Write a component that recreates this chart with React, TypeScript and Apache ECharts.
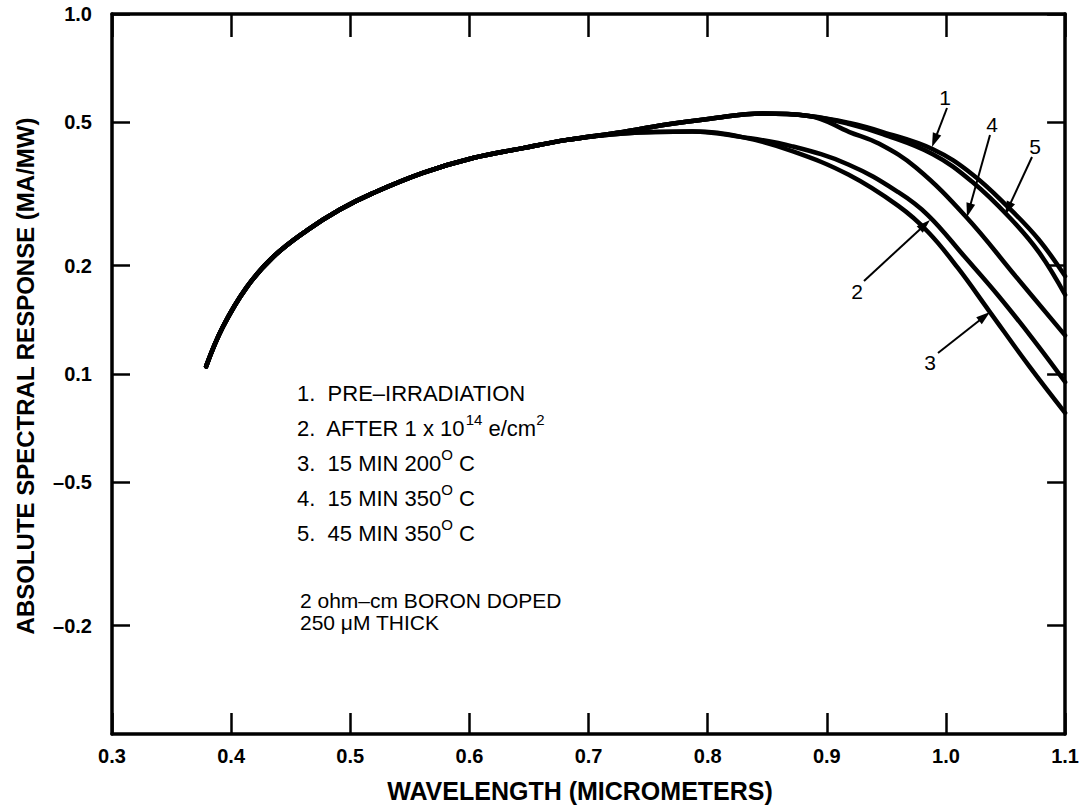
import React, { useEffect, useRef } from "react";
import * as echarts from "echarts";

// ---- axis ticks ----
const xMin = 0.3;
const xMax = 1.1;
const xInterval = 0.1;
const yTickValues = [1, 0.5, 0.2, 0.1, 0.05, 0.02];
const yTickLabels = ["1.0", "0.5", "0.2", "0.1", "–0.5", "–0.2"];

// ---- curve data: [wavelength (µm), response (mA/mW)] ----
// part shared by all five curves
const commonPart: [number, number][] = [
  [0.379, 0.105], [0.393, 0.135], [0.413, 0.174], [0.435, 0.211], [0.464, 0.251],
  [0.491, 0.286], [0.519, 0.318], [0.561, 0.362], [0.603, 0.398], [0.645, 0.424],
  [0.682, 0.447],
];
// upper branch shared by curves 1, 4, 5
const upperPart: [number, number][] = [
  [0.729, 0.470], [0.760, 0.490], [0.802, 0.512], [0.846, 0.529], [0.885, 0.521],
];
// lower branch shared by curves 2, 3
const lowerPart: [number, number][] = [
  [0.729, 0.466], [0.787, 0.472], [0.829, 0.455],
];
const curve1Tail: [number, number][] = [
  [0.919, 0.498], [0.947, 0.470], [0.989, 0.421], [1.022, 0.359], [1.053, 0.289], [1.078, 0.236], [1.1, 0.187],
];
const curve5Tail: [number, number][] = [
  [0.919, 0.495], [0.947, 0.464], [0.989, 0.408], [1.022, 0.342], [1.053, 0.273], [1.078, 0.218], [1.1, 0.166],
];
const curve4Tail: [number, number][] = [
  [0.919, 0.470], [0.944, 0.436], [0.975, 0.374], [1.017, 0.273], [1.059, 0.186], [1.1, 0.128],
];
const curve2Tail: [number, number][] = [
  [0.871, 0.429], [0.918, 0.382], [0.960, 0.320], [0.985, 0.276], [1.015, 0.213], [1.044, 0.165], [1.073, 0.125], [1.1, 0.095],
];
const curve3Tail: [number, number][] = [
  [0.871, 0.416], [0.918, 0.358], [0.960, 0.293], [0.985, 0.248], [1.010, 0.197], [1.036, 0.150], [1.070, 0.105], [1.1, 0.078],
];

const curveNames = ["1", "2", "3", "4", "5"];

// ---- texts ----
const legendLines = [
  "1.  PRE–IRRADIATION",
  "2.  AFTER 1 x 10{s|14} e/cm{s|2}",
  "3.  15 MIN 200{s|O} C",
  "4.  15 MIN 350{s|O} C",
  "5.  45 MIN 350{s|O} C",
];
const noteLines = ["2 ohm–cm BORON DOPED", "250 μM THICK"];
const xTitle = "WAVELENGTH (MICROMETERS)";
const yTitle = "ABSOLUTE SPECTRAL RESPONSE (MA/MW)";

// ---- annotation (curve number + arrow) placement in pixels ----
const annotations = [
  { label: "1", tx: 945, ty: 97, x1: 947, y1: 108, x2: 932, y2: 147 },
  { label: "4", tx: 992, ty: 124, x1: 990, y1: 135, x2: 967, y2: 217 },
  { label: "5", tx: 1035, ty: 146, x1: 1032, y1: 157, x2: 1005, y2: 215 },
  { label: "2", tx: 857, ty: 291, x1: 864, y1: 281, x2: 930, y2: 220 },
  { label: "3", tx: 930, ty: 362, x1: 938, y1: 353, x2: 990, y2: 312 },
];

const FONT = '"Liberation Sans", Arial, Helvetica, sans-serif';

function arrowElements(a: { x1: number; y1: number; x2: number; y2: number }) {
  const dx = a.x2 - a.x1;
  const dy = a.y2 - a.y1;
  const len = Math.sqrt(dx * dx + dy * dy);
  const ux = dx / len;
  const uy = dy / len;
  const headLen = 14;
  const headHalf = 4.5;
  const bx = a.x2 - ux * headLen;
  const by = a.y2 - uy * headLen;
  const px = -uy;
  const py = ux;
  return [
    {
      type: "line",
      shape: { x1: a.x1, y1: a.y1, x2: bx + ux * 2, y2: by + uy * 2 },
      style: { stroke: "#000", lineWidth: 2 },
      z: 10,
    },
    {
      type: "polygon",
      shape: {
        points: [
          [a.x2, a.y2],
          [bx + px * headHalf, by + py * headHalf],
          [bx - px * headHalf, by - py * headHalf],
        ],
      },
      style: { fill: "#000" },
      z: 10,
    },
  ];
}

export default function App() {
  const ref = useRef<HTMLDivElement>(null);

  useEffect(() => {
    if (!ref.current) return;
    const chart = echarts.init(ref.current, undefined, { renderer: "svg" });

    const curves = [
      [...commonPart, ...upperPart, ...curve1Tail],
      [...commonPart, ...lowerPart, ...curve2Tail],
      [...commonPart, ...lowerPart, ...curve3Tail],
      [...commonPart, ...upperPart, ...curve4Tail],
      [...commonPart, ...upperPart, ...curve5Tail],
    ];

    const axisLine = { show: true, lineStyle: { color: "#000", width: 3.5 } };
    const tickStyle = { color: "#000", width: 2.5 };

    const yLabel = (v: number) => {
      for (let i = 0; i < yTickValues.length; i++) {
        if (Math.abs(v - yTickValues[i]) < 1e-9) return yTickLabels[i];
      }
      return "";
    };

    const graphic: any[] = [];
    graphic.push({
      type: "text",
      x: 25,
      y: 376,
      rotation: Math.PI / 2,
      style: {
        text: yTitle,
        fontFamily: FONT,
        fontSize: 24,
        fontWeight: "bold",
        fill: "#000",
        align: "center",
        verticalAlign: "middle",
      },
    });
    graphic.push({
      type: "text",
      x: 580,
      y: 791,
      style: {
        text: xTitle,
        fontFamily: FONT,
        fontSize: 25,
        fontWeight: "bold",
        fill: "#000",
        align: "center",
        verticalAlign: "middle",
      },
    });
    legendLines.forEach((t, i) => {
      graphic.push({
        type: "text",
        x: 297,
        y: 393 + i * 35,
        style: {
          text: t,
          fontFamily: FONT,
          fontSize: 22,
          fill: "#000",
          align: "left",
          verticalAlign: "middle",
          rich: {
            s: { fontFamily: FONT, fontSize: 15, fill: "#000", padding: [0, 0, 17, 0] },
          },
        },
      });
    });
    noteLines.forEach((t, i) => {
      graphic.push({
        type: "text",
        x: 300,
        y: 600 + i * 22,
        style: {
          text: t,
          fontFamily: FONT,
          fontSize: 21,
          fill: "#000",
          align: "left",
          verticalAlign: "middle",
        },
      });
    });
    annotations.forEach((a) => {
      graphic.push({
        type: "text",
        x: a.tx,
        y: a.ty,
        style: {
          text: a.label,
          fontFamily: FONT,
          fontSize: 21,
          fill: "#000",
          align: "center",
          verticalAlign: "middle",
        },
      });
      graphic.push(...arrowElements(a));
    });

    chart.setOption({
      animation: false,
      backgroundColor: "#fff",
      grid: { left: 112, right: 16, top: 14, bottom: 72, containLabel: false },
      xAxis: [
        {
          type: "value",
          min: xMin,
          max: xMax,
          interval: xInterval,
          position: "bottom",
          axisLine,
          axisTick: { show: true, inside: true, length: 21, lineStyle: tickStyle },
          axisLabel: {
            show: true,
            margin: 12,
            color: "#000",
            fontFamily: FONT,
            fontSize: 20,
            fontWeight: "bold",
            formatter: (v: number) => v.toFixed(1),
          },
          splitLine: { show: false },
        },
        {
          type: "value",
          min: xMin,
          max: xMax,
          interval: xInterval,
          position: "top",
          axisLine,
          axisTick: { show: true, inside: true, length: 23, lineStyle: tickStyle },
          axisLabel: { show: false },
          splitLine: { show: false },
        },
      ],
      yAxis: [
        {
          type: "log",
          logBase: 10,
          min: 0.01,
          max: 1,
          position: "left",
          axisLine,
          axisTick: {
            show: true,
            inside: true,
            length: 18,
            lineStyle: tickStyle,
            customValues: yTickValues,
          },
          minorTick: { show: false },
          axisLabel: {
            show: true,
            margin: 20,
            color: "#000",
            fontFamily: FONT,
            fontSize: 20,
            fontWeight: "bold",
            customValues: yTickValues,
            formatter: yLabel,
          },
          splitLine: { show: false },
        },
        {
          type: "log",
          logBase: 10,
          min: 0.01,
          max: 1,
          position: "right",
          axisLine,
          axisTick: {
            show: true,
            inside: true,
            length: 18,
            lineStyle: tickStyle,
            customValues: yTickValues,
          },
          minorTick: { show: false },
          axisLabel: { show: false },
          splitLine: { show: false },
        },
      ],
      series: curves.map((d, i) => ({
        name: curveNames[i],
        type: "line",
        data: d,
        xAxisIndex: 0,
        yAxisIndex: 0,
        smooth: 0.4,
        showSymbol: false,
        symbol: "none",
        lineStyle: { color: "#000", width: 4.5, cap: "round", join: "round" },
        silent: true,
      })),
      graphic,
    });

    return () => chart.dispose();
  }, []);

  return (
    <div
      ref={ref}
      style={{ position: "absolute", left: 0, top: 0, width: 1082, height: 806, background: "#fff" }}
    />
  );
}
